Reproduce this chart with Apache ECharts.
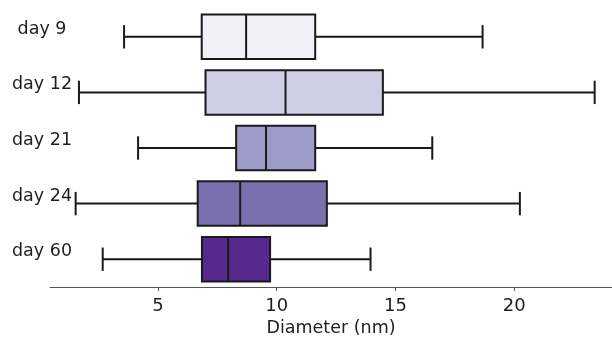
<!DOCTYPE html>
<html>
<head>
<meta charset="utf-8">
<script src="https://cdn.jsdelivr.net/npm/echarts@6/dist/echarts.min.js"></script>
<style>
  html, body { margin: 0; padding: 0; background: #ffffff; }
  #chart { width: 612px; height: 337px; }
</style>
</head>
<body>
<div id="chart"></div>
<script>
// Particle diameter distributions per sampling day
const days = ['day 9', 'day 12', 'day 21', 'day 24', 'day 60'];
// five-number summaries: [whisker low, Q1, median, Q3, whisker high]
const whiskerLow  = [3.57, 1.67, 4.16, 1.53, 2.67];
const q1          = [6.84, 7.00, 8.29, 6.67, 6.85];
const median      = [8.71, 10.37, 9.55, 8.46, 7.95];
const q3          = [11.62, 14.47, 11.62, 12.11, 9.72];
const whiskerHigh = [18.67, 23.39, 16.55, 20.24, 13.95];
const boxColors = ['#f2f0f7', '#d0cee6', '#9f9bc9', '#7a70ae', '#57298f'];
const xTicks = [5, 10, 15, 20];

const seriesData = days.map((d, i) => ({
  value: [i, whiskerLow[i], q1[i], median[i], q3[i], whiskerHigh[i]],
  itemStyle: { color: boxColors[i] }
}));

const FONT = 'DejaVu Sans';
const LINE = '#1a1a1a';

function renderBox(params, api) {
  const cat = api.value(0);
  const pLow = api.coord([api.value(1), cat]);
  const pQ1 = api.coord([api.value(2), cat]);
  const pMed = api.coord([api.value(3), cat]);
  const pQ3 = api.coord([api.value(4), cat]);
  const pHigh = api.coord([api.value(5), cat]);
  const band = api.size([0, 1])[1];
  const half = band * 0.4;
  const cap = band * 0.21;
  const cy = pMed[1];
  const fill = boxColors[params.dataIndex];
  const lineStyle = { stroke: LINE, lineWidth: 2 };
  return {
    type: 'group',
    children: [
      { type: 'line', shape: { x1: pLow[0], y1: cy, x2: pQ1[0], y2: cy }, style: lineStyle },
      { type: 'line', shape: { x1: pQ3[0], y1: cy, x2: pHigh[0], y2: cy }, style: lineStyle },
      { type: 'line', shape: { x1: pLow[0], y1: cy - cap, x2: pLow[0], y2: cy + cap }, style: lineStyle },
      { type: 'line', shape: { x1: pHigh[0], y1: cy - cap, x2: pHigh[0], y2: cy + cap }, style: lineStyle },
      { type: 'rect', shape: { x: pQ1[0], y: cy - half, width: pQ3[0] - pQ1[0], height: half * 2 },
        style: { fill: fill, stroke: LINE, lineWidth: 2 } },
      { type: 'line', shape: { x1: pMed[0], y1: cy - half, x2: pMed[0], y2: cy + half }, style: lineStyle }
    ]
  };
}

const chart = echarts.init(document.getElementById('chart'), null, { renderer: 'canvas' });
chart.setOption({
  animation: false,
  backgroundColor: '#ffffff',
  grid: { left: 50, right: 0, top: 9, bottom: 50, containLabel: false, outerBoundsMode: 'none' },
  xAxis: {
    type: 'value',
    min: 0.45,
    max: 24.12,
    name: 'Diameter (nm)',
    nameLocation: 'middle',
    nameGap: 30,
    nameTextStyle: { fontFamily: FONT, fontSize: 17.5, color: '#222' },
    axisLine: { show: true, lineStyle: { color: '#555', width: 1 } },
    axisTick: { show: true, length: 4, lineStyle: { color: '#555' }, customValues: xTicks },
    axisLabel: { fontFamily: FONT, fontSize: 18, color: '#1e1e1e', margin: 10, customValues: xTicks },
    splitLine: { show: false }
  },
  yAxis: {
    type: 'category',
    data: days,
    inverse: true,
    axisLine: { show: false },
    axisTick: { show: false },
    splitLine: { show: false },
    axisLabel: {
      fontFamily: FONT, fontSize: 17.5, color: '#1e1e1e',
      align: 'center', verticalAlign: 'bottom', lineHeight: 15, margin: 8
    }
  },
  series: [{
    type: 'custom',
    renderItem: renderBox,
    encode: { y: 0, x: [1, 2, 3, 4, 5] },
    data: seriesData
  }]
});
</script>
</body>
</html>
